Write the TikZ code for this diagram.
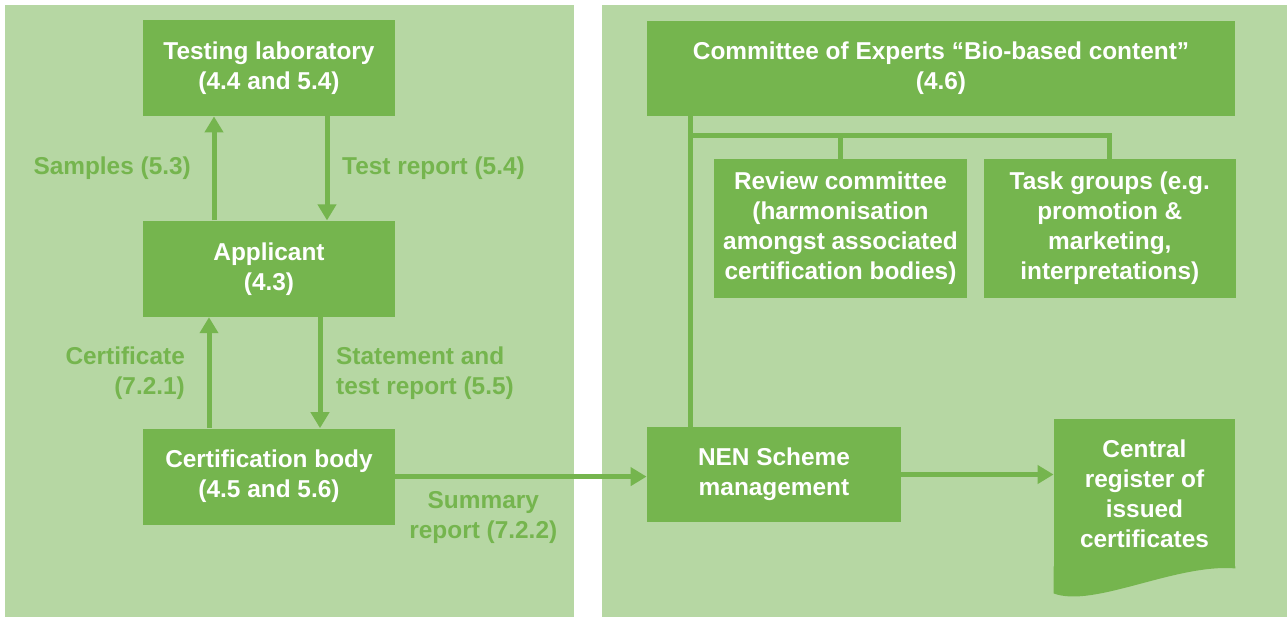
\documentclass[tikz,border=0pt]{standalone}
\usepackage{fontspec}
\setmainfont{Liberation Sans}
\usepackage{tikz}
\usetikzlibrary{arrows.meta, positioning, calc}
\definecolor{panelgreen}{HTML}{B6D7A3}
\definecolor{boxgreen}{HTML}{75B54E}

\begin{document}
\begin{tikzpicture}[x=0.5pt, y=-0.5pt,
    every node/.style={font=\bfseries\fontsize{12.2}{15}\selectfont},
    box/.style={fill=boxgreen, text=white, align=center, inner sep=2pt},
    lbl/.style={text=boxgreen, align=center},
    arr/.style={-{Triangle[width=9pt, length=8pt]}, boxgreen, line width=2.5pt},
    link/.style={boxgreen, line width=2.5pt}]
        \useasboundingbox (0,0) rectangle (1287,617);
        % Panels
        \fill[panelgreen] (5,5) rectangle (574,617);
        \fill[panelgreen] (602,5) rectangle (1287,617);
        % Applicant side
        \node[box, minimum width=126pt, minimum height=48pt] (lab) at (269,68) {Testing laboratory\\(4.4 and 5.4)};
        \node[box, minimum width=126pt, minimum height=48pt, below=52pt of lab] (appl) {Applicant\\(4.3)};
        \node[box, minimum width=126pt, minimum height=48pt, below=55.5pt of appl] (cert) {Certification body\\(4.5 and 5.6)};
        % Scheme side
        \node[box, minimum width=294pt, minimum height=47.5pt] (coe) at (941,68.5) {Committee of Experts “Bio-based content”\\(4.6)};
        \node[box, minimum width=126.5pt, minimum height=69.5pt] (review) at (840.5,228.5) {Review committee\\(harmonisation\\amongst associated\\certification bodies)};
        \node[box, minimum width=126pt, minimum height=69.5pt, right=8pt of review] (task) {Task groups (e.g.\\promotion \&\\marketing,\\interpretations)};
        \node[box, minimum width=127pt, minimum height=47.5pt] (nen) at (774,474.5) {NEN Scheme\\management};
        \node[box, minimum width=90.5pt, minimum height=74.5pt] (reg) at (1144.5,493.5) {Central\\register of\\issued\\certificates};
        % Document bottom
        \fill[boxgreen] ($(reg.south west)+(0,-2)$) -- ++(0,27) .. controls +(40,15) and +(-60,-5) .. (reg.south east) -- ++(0,-2) -- cycle;
        % Arrows
        \draw[arr] ($(appl.north)+(-55,0)$) -- node[lbl, left=7pt] {Samples (5.3)} ($(lab.south)+(-55,0)$);
        \draw[arr] ($(lab.south)+(58,0)$) -- node[lbl, right=3pt] {Test report (5.4)} ($(appl.north)+(58,0)$);
        \draw[arr] ($(cert.north)+(-60,0)$) -- node[lbl, left=7.5pt, align=right] {Certificate\\(7.2.1)} ($(appl.south)+(-60,0)$);
        \draw[arr] ($(appl.south)+(51,0)$) -- node[lbl, right=3.5pt, align=left] {Statement and\\test report (5.5)} ($(cert.north)+(51,0)$);
        \draw[arr] (cert.east) -- node[lbl, below=3pt, pos=0.35] {Summary\\report (7.2.2)} (cert.east -| nen.west);
        \draw[arr] (nen.east) -- (nen.east -| reg.west);
        % Committee links
        \coordinate (bus) at ($(coe.south west)+(44,19)$);
        \draw[link] ($(coe.south west)+(44,0)$) -- (nen.north -| bus);
        \draw[link] (bus) -| (task.north);
        \draw[link] (bus -| review.north) -- (review.north);
\end{tikzpicture}
\end{document}
